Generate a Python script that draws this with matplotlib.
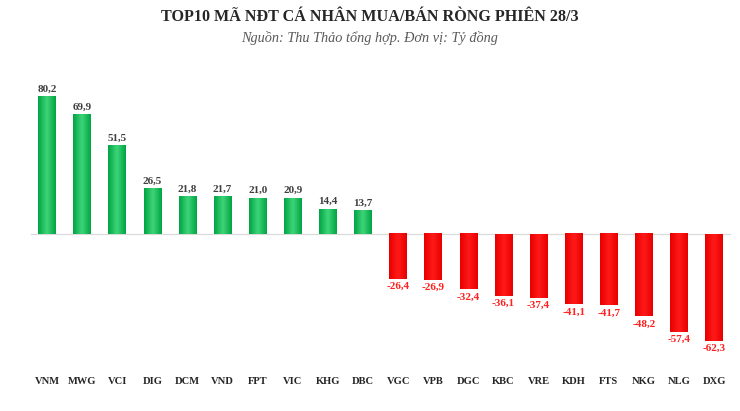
import numpy as np
import matplotlib
matplotlib.use("Agg")
import matplotlib.pyplot as plt
from matplotlib.colors import LinearSegmentedColormap

tickers = ["VNM", "MWG", "VCI", "DIG", "DCM", "VND", "FPT", "VIC", "KHG", "DBC",
           "VGC", "VPB", "DGC", "KBC", "VRE", "KDH", "FTS", "NKG", "NLG", "DXG"]
values = [80.2, 69.9, 51.5, 26.5, 21.8, 21.7, 21.0, 20.9, 14.4, 13.7,
          -26.4, -26.9, -32.4, -36.1, -37.4, -41.1, -41.7, -48.2, -57.4, -62.3]
labels = ["80,2", "69,9", "51,5", "26,5", "21,8", "21,7", "21,0", "20,9", "14,4", "13,7",
          "-26,4", "-26,9", "-32,4", "-36,1", "-37,4", "-41,1", "-41,7", "-48,2", "-57,4", "-62,3"]

serif = ["Liberation Serif", "DejaVu Serif"]

fig = plt.figure(figsize=(7.4, 4.11), dpi=100)
fig.patch.set_facecolor("white")
ax = fig.add_axes([0.0303, 0.0895, 0.968, 0.7157])

x = np.arange(len(tickers))
width = 0.5
green_cm = LinearSegmentedColormap.from_list("g", ["#00a443", "#3fd57a", "#00a443"])
red_cm = LinearSegmentedColormap.from_list("r", ["#e80000", "#ff1a1a", "#e80000"])
grad = np.linspace(0, 1, 64).reshape(1, -1)

bars = ax.bar(x, values, width=width, color="none", edgecolor="none", zorder=2)
for b, v in zip(bars, values):
    x0, w = b.get_x(), b.get_width()
    y0, y1 = (0, v) if v > 0 else (v, 0)
    ax.imshow(grad, cmap=green_cm if v > 0 else red_cm, aspect="auto",
              extent=[x0, x0 + w, y0, y1], zorder=2, interpolation="bicubic")

ax.plot([-0.45, 19.45], [0, 0], color="#d9d9d9", lw=0.8, zorder=1)

for xi, v, lab in zip(x, values, labels):
    if v > 0:
        ax.text(xi, v + 1.8, lab, ha="center", va="bottom", fontsize=8,
                fontweight="bold", color="#404040", family=serif)
    else:
        ax.text(xi, v - 1.8, lab, ha="center", va="top", fontsize=8,
                fontweight="bold", color="#ff2020", family=serif)

ax.set_xlim(-0.7, 19.7)
ax.set_ylim(-82, 90)
ax.set_xticks(x)
ax.set_xticklabels(tickers, fontsize=7.6, fontweight="bold", color="#262626", family=serif)
ax.tick_params(axis="x", length=0, pad=2)
ax.set_yticks([])
for s in ax.spines.values():
    s.set_visible(False)

fig.text(0.5, 0.958, "TOP10 MÃ NĐT CÁ NHÂN MUA/BÁN RÒNG PHIÊN 28/3",
         ha="center", va="center", fontsize=11.6, fontweight="bold",
         color="#262626", family=serif)
fig.text(0.5, 0.907, "Nguồn: Thu Thảo tổng hợp. Đơn vị: Tỷ đồng",
         ha="center", va="center", fontsize=10.3, style="italic",
         color="#595959", family=serif)

fig.savefig("out.png", dpi=100, facecolor="white")
